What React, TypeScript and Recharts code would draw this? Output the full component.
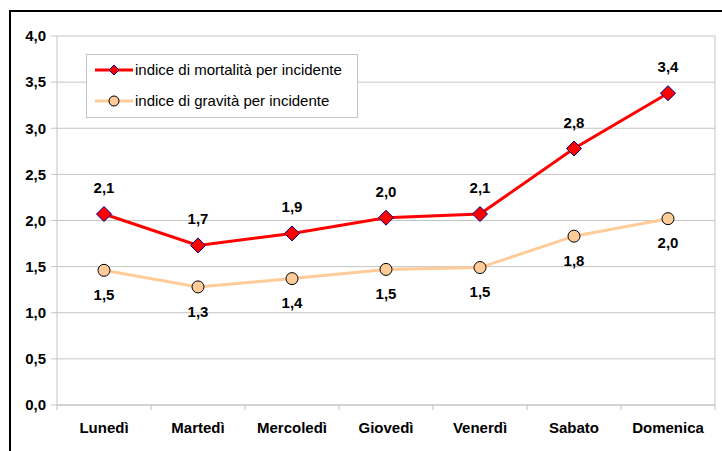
import React from "react";
import {
  LineChart,
  Line,
  XAxis,
  YAxis,
  CartesianGrid,
  LabelList,
} from "recharts";

const days = ["Lunedì", "Martedì", "Mercoledì", "Giovedì", "Venerdì", "Sabato", "Domenica"];
const mortalita = [2.07, 1.73, 1.86, 2.03, 2.07, 2.78, 3.38];
const gravita = [1.46, 1.28, 1.37, 1.47, 1.49, 1.83, 2.02];
const yTicks = [0, 0.5, 1, 1.5, 2, 2.5, 3, 3.5, 4];

const data = days.map((d, i) => ({ day: d, mortalita: mortalita[i], gravita: gravita[i] }));

const FONT = '"Liberation Sans", Arial, sans-serif';
const RED = "#ff0000";
const PEACH = "#ffcc99";
const GRID = "#c4c4c4";
const HALF_BAND = 47;

const fmt = (v: number) => v.toFixed(1).replace(".", ",");

const Diamond = (props: any) => {
  const { cx, cy } = props;
  if (cx == null || cy == null) return null;
  const r = 7.5;
  return (
    <polygon
      points={`${cx},${cy - r} ${cx + r},${cy} ${cx},${cy + r} ${cx - r},${cy}`}
      fill={RED}
      stroke="#000080"
      strokeWidth={1}
    />
  );
};

const DayTick = (props: any) => {
  const { x, y, payload, index } = props;
  return (
    <g>
      <line x1={x - HALF_BAND} y1={y - 8} x2={x - HALF_BAND} y2={y - 3} stroke={GRID} />
      {index === days.length - 1 && (
        <line x1={x + HALF_BAND} y1={y - 8} x2={x + HALF_BAND} y2={y - 3} stroke={GRID} />
      )}
      <text x={x} y={y + 20} textAnchor="middle" fontFamily={FONT} fontWeight="bold" fontSize={15} fill="#000">
        {payload.value}
      </text>
    </g>
  );
};

function LegendBox() {
  return (
    <svg
      width={272}
      height={64}
      style={{ position: "absolute", left: 86, top: 54, fontFamily: FONT }}
    >
      <rect x={0.5} y={0.5} width={271} height={63} fill="#fff" stroke="#c4c4c4" />
      <line x1={9} y1={16} x2={47} y2={16} stroke={RED} strokeWidth={3} />
      <polygon points="28,11 33,16 28,21 23,16" fill={RED} stroke="#000080" />
      <text x={49} y={21} fontSize={15} fill="#000">
        indice di mortalità per incidente
      </text>
      <line x1={9} y1={47} x2={47} y2={47} stroke={PEACH} strokeWidth={3} />
      <circle cx={28} cy={47} r={5} fill={PEACH} stroke="#000" />
      <text x={49} y={52} fontSize={15} fill="#000">
        indice di gravità per incidente
      </text>
    </svg>
  );
}

export default function App() {
  return (
    <div style={{ position: "absolute", left: 0, top: 0, width: 722, height: 451, overflow: "hidden", background: "#fff" }}>
      <div
        style={{
          position: "absolute",
          left: 9,
          top: 10,
          width: 730,
          height: 460,
          border: "2px solid #000",
          boxSizing: "border-box",
        }}
      />
      <LineChart
        width={722}
        height={451}
        data={data}
        margin={{ top: 36, right: 7, left: 0, bottom: 0 }}
        style={{ position: "absolute", left: 0, top: 0 }}
      >
        <CartesianGrid
          stroke={GRID}
          verticalCoordinatesGenerator={(p: any) => [p.offset.left + p.offset.width]}
        />
        <XAxis
          dataKey="day"
          height={46}
          axisLine={{ stroke: GRID }}
          tickLine={false}
          interval={0}
          padding={{ left: HALF_BAND, right: HALF_BAND }}
          tick={<DayTick />}
        />
        <YAxis
          width={57}
          domain={[0, 4]}
          ticks={yTicks}
          tickFormatter={fmt}
          axisLine={{ stroke: GRID }}
          tickLine={{ stroke: GRID }}
          tickSize={6}
          tick={{ fontFamily: FONT, fontWeight: "bold", fontSize: 15, fill: "#000", dx: -3 }}
        />
        <Line
          dataKey="gravita"
          stroke={PEACH}
          strokeWidth={3}
          isAnimationActive={false}
          dot={{ r: 6, fill: PEACH, stroke: "#000", strokeWidth: 1 }}
        >
          <LabelList
            dataKey="gravita"
            position="bottom"
            offset={19}
            formatter={(v: any) => fmt(Number(v))}
            style={{ fontFamily: FONT, fontWeight: "bold", fontSize: 15, fill: "#000" }}
          />
        </Line>
        <Line
          dataKey="mortalita"
          stroke={RED}
          strokeWidth={3}
          isAnimationActive={false}
          dot={<Diamond />}
        >
          <LabelList
            dataKey="mortalita"
            position="top"
            offset={21}
            formatter={(v: any) => fmt(Number(v))}
            style={{ fontFamily: FONT, fontWeight: "bold", fontSize: 15, fill: "#000" }}
          />
        </Line>
      </LineChart>
      <LegendBox />
    </div>
  );
}
